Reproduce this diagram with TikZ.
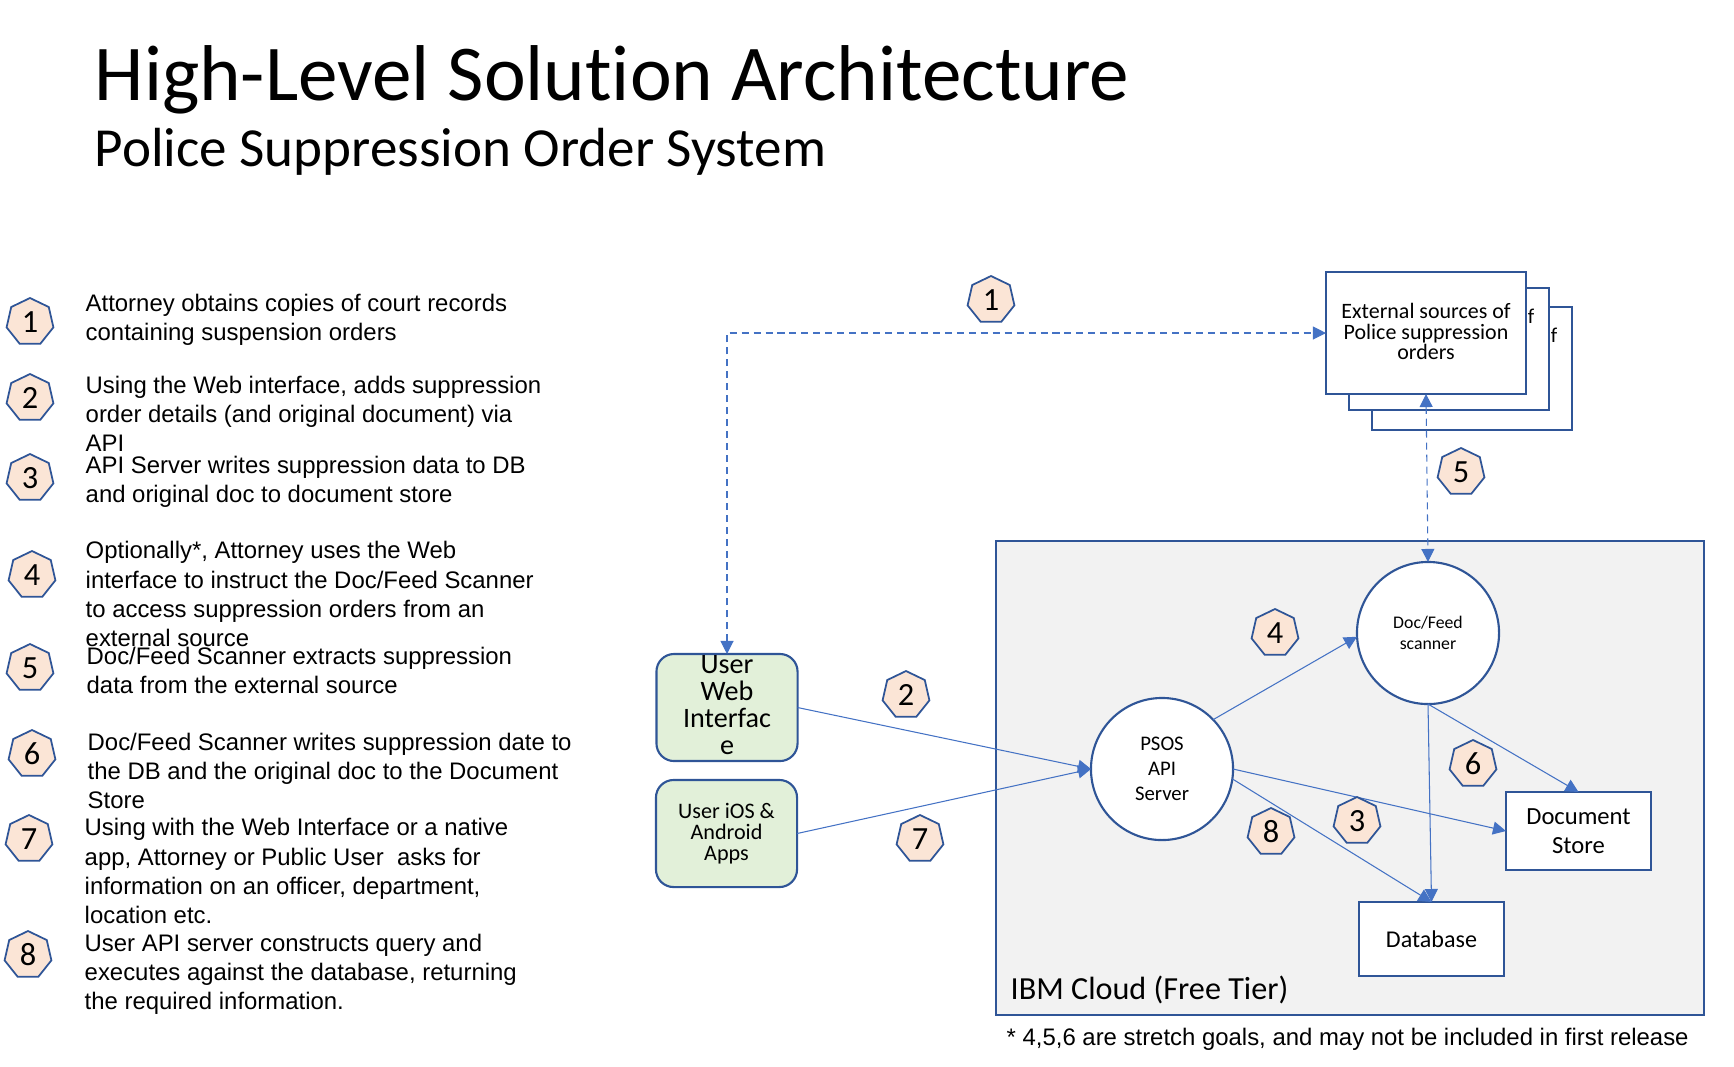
\documentclass[tikz,border=0pt]{standalone}
\usepackage{fontspec}
\setmainfont{Carlito}[Ligatures=NoCommon]
\newfontfamily\arialfont{Liberation Sans}
\usetikzlibrary{arrows.meta,shapes.geometric}
\definecolor{linecol}{HTML}{2F5597}
\definecolor{arrcol}{HTML}{4472C4}
\definecolor{badgecol}{HTML}{FBE5D6}
\definecolor{appcol}{HTML}{E2F0D9}
\definecolor{cloudcol}{HTML}{F2F2F2}

\begin{document}
\begin{tikzpicture}[
    x=0.01cm, y=-0.01cm,
    badge/.style={draw=linecol, line width=0.5pt, fill=badgecol, regular polygon, regular polygon sides=7, minimum size=0.48cm, inner sep=0pt, font=\fontsize{9.2}{9.2}\selectfont},
    stepnote/.style={anchor=west, align=left, inner sep=0pt, font=\arialfont\fontsize{6.8}{8.28}\selectfont},
    box/.style={draw=linecol, line width=0.6pt, fill=white, align=center, inner sep=0pt, outer sep=0pt},
    app/.style={box, fill=appcol, rounded corners=5pt, minimum width=1.41cm, minimum height=1.07cm},
    server/.style={box, circle, minimum size=1.42cm},
    arr/.style={-{Triangle[length=1.3mm,width=1.3mm]}, draw=arrcol, line width=0.3pt},
    dasharr/.style={{Triangle[length=1.3mm,width=1.3mm]}-{Triangle[length=1.3mm,width=1.3mm]}, draw=arrcol, line width=0.3pt, dash pattern=on 2pt off 1.4pt}
]
\useasboundingbox (0,0) rectangle (1734,1066);

\node[inner sep=0pt, anchor=west, font=\fontsize{22.5}{24}\selectfont] (title) at (94,80) {High-Level Solution Architecture};
\node[inner sep=0pt, anchor=west, font=\fontsize{15.67}{16}\selectfont] (subtitle) at (94,152) {Police Suppression Order System};

% steps on the left
\node[badge] (n1) at (30,322) {1};
\node[badge] (n2) at (30,398) {2};
\node[badge] (n3) at (30,478) {3};
\node[badge] (n4) at (32,575) {4};
\node[badge] (n5) at (30,668) {5};
\node[badge] (n6) at (32,754) {6};
\node[badge] (n7) at (29,839) {7};
\node[badge] (n8) at (28,955) {8};

\node[stepnote] (t1) at (85,320) {Attorney obtains copies of court records\\containing suspension orders};
\node[stepnote] (t2) at (85,414) {Using the Web interface, adds suppression\\order details (and original document) via\\API};
\node[stepnote] (t3) at (85,482) {API Server writes suppression data to DB\\and original doc to document store};
\node[stepnote] (t4) at (85,594) {Optionally*, Attorney uses the Web\\interface to instruct the Doc/Feed Scanner\\to access suppression orders from an\\external source};
\node[stepnote] (t5) at (86,670) {Doc/Feed Scanner extracts suppression\\data from the external source};
\node[stepnote] (t6) at (87,771) {Doc/Feed Scanner writes suppression date to\\the DB and the original doc to the Document\\Store};
\node[stepnote] (t7) at (84,871) {Using with the Web Interface or a native\\app, Attorney or Public User\ \ asks for\\information on an officer, department,\\location etc.};
\node[stepnote] (t8) at (84,974) {User API server constructs query and\\executes against the database, returning\\the required information.};

% cloud
\node[box, fill=cloudcol, minimum width=7.08cm, minimum height=4.74cm] (cloud) at (1350,778) {};
\node[inner sep=0pt, anchor=west, font=\fontsize{9.15}{10}\selectfont] (cloudlabel) at (1010,990) {IBM Cloud (Free Tier)};
\node[inner sep=0pt, anchor=west, font=\arialfont\fontsize{6.8}{8}\selectfont] (footnote) at (1006,1039) {* 4,5,6 are stretch goals, and may not be included in first release};

% external sources
\node[box, minimum width=2cm, minimum height=1.23cm] (ext3) at (1472,368.5) {};
\node[inner sep=0pt, font=\fontsize{6}{6}\selectfont] (f3) at (1554,335) {f};
\node[box, minimum width=2cm, minimum height=1.22cm] (ext2) at (1449,349) {};
\node[inner sep=0pt, font=\fontsize{6}{6}\selectfont] (f2) at (1531,316) {f};
\node[box, minimum width=2cm, minimum height=1.22cm, text depth=0.9pt, font=\fontsize{6.25}{5.9}\selectfont] (ext) at (1426,333) {External sources of\\Police suppression\\orders};

\node[app, text depth=1.6pt, font=\fontsize{8}{7.65}\selectfont] (web) at (727,707.5) {User\\Web\\Interfac\\e};
\node[app, font=\fontsize{6.3}{6}\selectfont] (ios) at (726.5,833.5) {User iOS \&\\Android\\Apps};
\node[server, font=\fontsize{5.9}{7.1}\selectfont] (psos) at (1162,769) {PSOS\\API\\Server};
\node[server, font=\fontsize{5.05}{6}\selectfont] (scanner) at (1428,633) {Doc/Feed\\scanner};
\node[box, minimum width=1.45cm, minimum height=0.78cm, font=\fontsize{7}{8.2}\selectfont] (store) at (1578.5,831) {Document\\Store};
\node[box, minimum width=1.45cm, minimum height=0.74cm, font=\fontsize{6.85}{8}\selectfont] (db) at (1431.5,939) {Database};

\draw[dasharr] (web.north) |- (ext.west);
\draw[dasharr] (ext.south) -- (scanner.north);
\draw[arr] (web.east) -- (psos.west);
\draw[arr] (ios.east) -- (psos.west);
\draw[arr] (psos.44) -- (scanner.183);
\draw[arr] (psos.east) -- (store.west);
\draw[arr] (psos.-8) -- (db.north);
\draw[arr] (scanner.south) -- (db.north);
\draw[arr] (scanner.south) -- (store.north);

\node[badge] (b1) at (991,300) {1};
\node[badge] (b2) at (906,695) {2};
\node[badge] (b3) at (1357,821) {3};
\node[badge] (b4) at (1275,633) {4};
\node[badge] (b5) at (1461,472) {5};
\node[badge] (b6) at (1473,764) {6};
\node[badge] (b7) at (920,839) {7};
\node[badge] (b8) at (1271,832) {8};
\end{tikzpicture}
\end{document}
